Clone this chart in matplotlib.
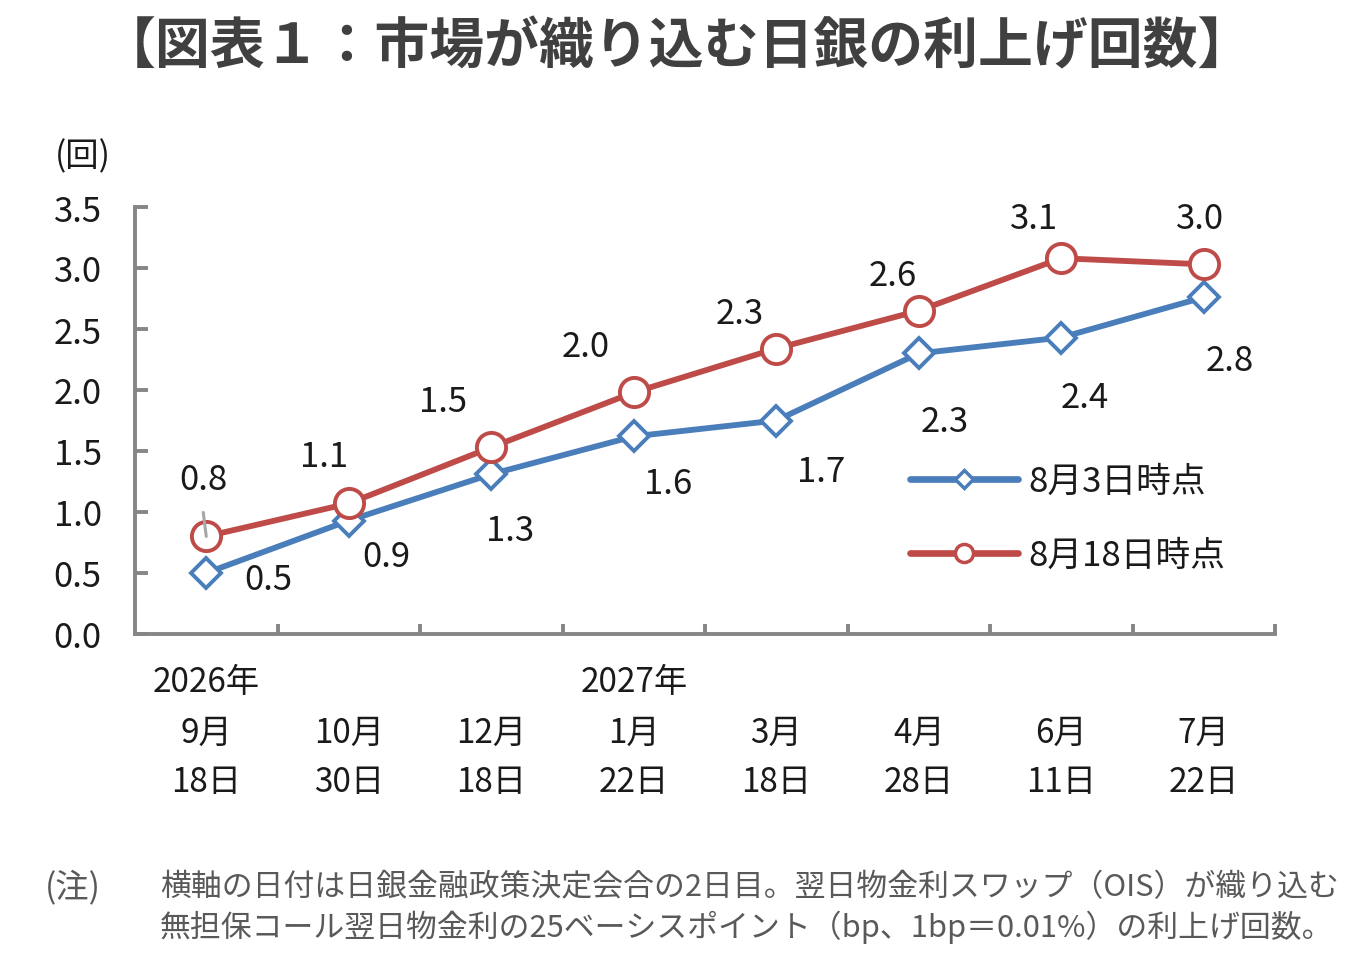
import matplotlib
matplotlib.use("Agg")
import matplotlib.pyplot as plt
import matplotlib.transforms as mtransforms
from matplotlib.lines import Line2D

plt.rcParams['font.family'] = ['Noto Sans CJK JP', 'DejaVu Sans']

# ---- data ----
years = ["2026年", "", "", "2027年", "", "", "", ""]
months = ["9月", "10月", "12月", "1月", "3月", "4月", "6月", "7月"]
days = ["18日", "30日", "18日", "22日", "18日", "28日", "11日", "22日"]
series_names = ["8月3日時点", "8月18日時点"]
aug3 = [0.50, 0.93, 1.31, 1.62, 1.75, 2.30, 2.43, 2.76]
aug18 = [0.80, 1.07, 1.53, 1.98, 2.34, 2.65, 3.08, 3.03]
aug3_labels = ["0.5", "0.9", "1.3", "1.6", "1.7", "2.3", "2.4", "2.8"]
aug18_labels = ["0.8", "1.1", "1.5", "2.0", "2.3", "2.6", "3.1", "3.0"]
yticks = [0.0, 0.5, 1.0, 1.5, 2.0, 2.5, 3.0, 3.5]

# label offsets in pixels (dx, dy; dy positive = up)
aug3_off = [(62, -7), (38, -36), (19, -56), (34, -47), (45, -51), (26, -68), (24, -60), (26, -63)]
aug18_off = [(-3, 57), (-25, 47), (-48, 46), (-48, 46), (-37, 35), (-26, 35), (-27, 40), (-4, 46)]

BLUE = "#4A7EBB"
RED = "#BE4B48"
GRAY = "#868686"
TXT = "#1a1a1a"

fig = plt.figure(figsize=(13.67, 9.62), dpi=100)
ax = fig.add_axes([135/1367, 1-635/962, (1275-135)/1367, (635-208)/962])

x = list(range(len(months)))
ax.plot(x, aug3, color=BLUE, lw=4.2, marker='D', ms=15, mfc='white', mec=BLUE, mew=2.8,
        label=series_names[0], zorder=3, solid_capstyle='round')
ax.plot(x, aug18, color=RED, lw=4.2, marker='o', ms=21, mfc='white', mec=RED, mew=2.8,
        label=series_names[1], zorder=4, solid_capstyle='round')

px = 72/100
for xi, v, lab, (dx, dy) in zip(x, aug3, aug3_labels, aug3_off):
    ax.annotate(lab, (xi, v), xytext=(dx*px, dy*px), textcoords='offset points',
                ha='center', va='center', fontsize=25, color=TXT)
for xi, v, lab, (dx, dy) in zip(x, aug18, aug18_labels, aug18_off):
    ax.annotate(lab, (xi, v), xytext=(dx*px, dy*px), textcoords='offset points',
                ha='center', va='center', fontsize=25, color=TXT)

# leader line for first red label
ax.annotate("", (x[0], aug18[0]), xytext=(-3*px, 24*px), textcoords='offset points',
            arrowprops=dict(arrowstyle='-', color='#A6A6A6', lw=2.2, shrinkA=0, shrinkB=0),
            zorder=5)

ax.set_xlim(-0.5, len(months) - 0.5)
ax.set_ylim(0, 3.5)
ax.set_yticks(yticks)
ax.set_yticklabels([f"{t:.1f}" for t in yticks], fontsize=25, color=TXT)
ax.set_xticks([i + 0.5 for i in range(len(months))])
ax.set_xticklabels([])
ax.tick_params(axis='y', direction='in', length=9, width=2.8, color=GRAY, pad=24)
ax.tick_params(axis='x', direction='in', length=7.5, width=2.8, color=GRAY)
for s in ['top', 'right']:
    ax.spines[s].set_visible(False)
for s in ['left', 'bottom']:
    ax.spines[s].set_color(GRAY)
    ax.spines[s].set_linewidth(2.8)
ax.patch.set_visible(False)

# category labels (three rows)
trans = mtransforms.blended_transform_factory(ax.transData, fig.transFigure)
for xi, yr, mo, dy in zip(x, years, months, days):
    if yr:
        ax.text(xi, 1-683/962, yr, transform=trans, ha='center', va='center', fontsize=24, color=TXT)
    ax.text(xi, 1-733/962, mo, transform=trans, ha='center', va='center', fontsize=24, color=TXT)
    ax.text(xi, 1-783/962, dy, transform=trans, ha='center', va='center', fontsize=24, color=TXT)

# legend
handles = [
    Line2D([], [], color=BLUE, lw=4.8, marker='D', ms=9, mfc='white', mec=BLUE, mew=2.5, solid_capstyle='round'),
    Line2D([], [], color=RED, lw=4.8, marker='o', ms=13, mfc='white', mec=RED, mew=2.5, solid_capstyle='round'),
]
leg = ax.legend(handles, series_names, loc='upper left', bbox_to_anchor=(910/1367, 1-465/962),
                bbox_transform=fig.transFigure, frameon=False, fontsize=25, handlelength=3.1,
                handletextpad=0.3, labelspacing=1.12, borderaxespad=0, borderpad=0)
for t in leg.get_texts():
    t.set_color(TXT)

# title, unit, note
fig.text(0.495, 1-47/962, "【図表１：市場が織り込む日銀の利上げ回数】", ha='center', va='center',
         fontsize=39.5, fontweight='bold', color='#404040')
fig.text(83/1367, 1-157/962, "(回)", ha='center', va='center', fontsize=24, color=TXT)
fig.text(45/1367, 1-888/962, "(注)", ha='left', va='center', fontsize=24, color='#595959')
fig.text(160/1367, 1-888/962, "横軸の日付は日銀金融政策決定会合の2日目。翌日物金利スワップ（OIS）が織り込む",
         ha='left', va='center', fontsize=22.2, color='#595959')
fig.text(160/1367, 1-927/962, "無担保コール翌日物金利の25ベーシスポイント（bp、1bp＝0.01%）の利上げ回数。",
         ha='left', va='center', fontsize=22.2, color='#595959')

fig.savefig("out.png", dpi=100)
